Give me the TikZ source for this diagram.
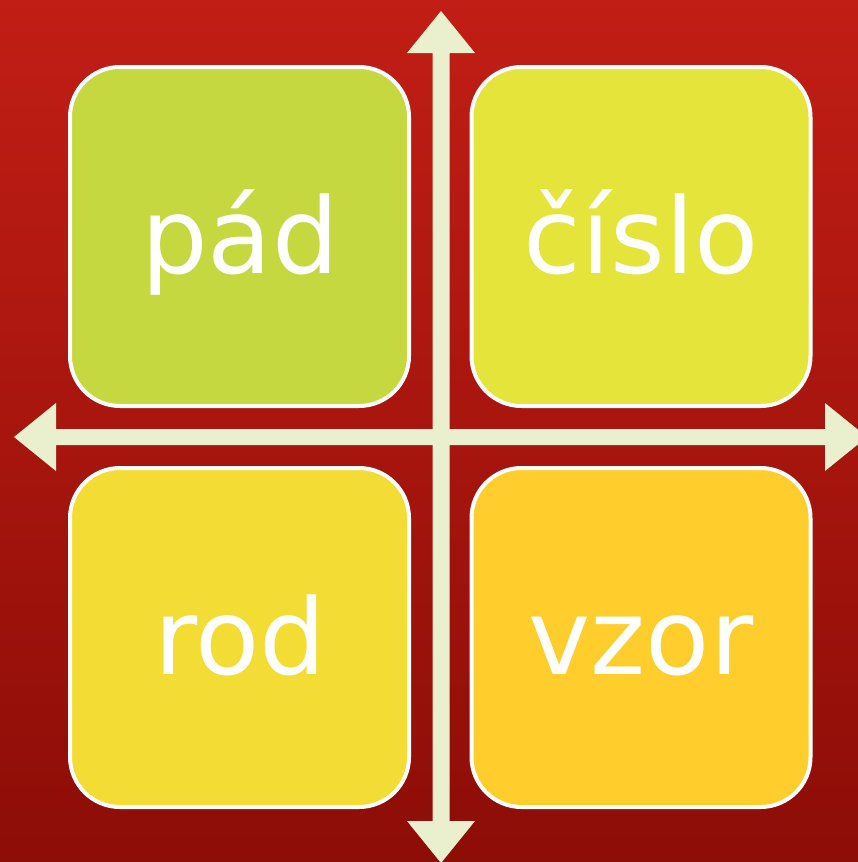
\documentclass[tikz,border=0pt]{standalone}
\usepackage{fontspec}
\usetikzlibrary{calc}
\setmainfont{DejaVu Sans}
\definecolor{bgtop}{RGB}{193,30,21}
\definecolor{bgbot}{RGB}{141,13,7}
\definecolor{arrowc}{RGB}{234,240,206}
\definecolor{cA}{RGB}{198,216,64}
\definecolor{cB}{RGB}{228,228,58}
\definecolor{cC}{RGB}{243,221,52}
\definecolor{cD}{RGB}{255,206,44}
\tikzset{
  quad/.style={draw=white, line width=4pt, rounded corners=50pt, minimum width=339pt, minimum height=339pt, inner sep=0pt, outer sep=0pt},
  word/.style={text=white, anchor=base, inner sep=0pt, font=\fontsize{105}{115}\selectfont},
  axis/.style={fill=arrowc, draw=none}
}
\begin{document}
\begin{tikzpicture}[x=1pt,y=-1pt]
\useasboundingbox (0,0) rectangle (858,862);
\clip (0,0) rectangle (858,862);
\shade[top color=bgtop, bottom color=bgbot] (0,0) rectangle (858,862);
% vertical double arrow
\coordinate (vt) at (441,11);
\coordinate (vb) at (441,863);
\fill[axis] (vt) -- ($(vt)+(34,42)$) -- ($(vt)+(8.5,42)$) -- ($(vb)+(8.5,-42)$) -- ($(vb)+(34,-42)$) -- (vb)
  -- ($(vb)+(-34,-42)$) -- ($(vb)+(-8.5,-42)$) -- ($(vt)+(-8.5,42)$) -- ($(vt)+(-34,42)$) -- cycle;
% horizontal double arrow
\coordinate (hl) at (14,437);
\coordinate (hr) at (867,437);
\fill[axis] (hl) -- ($(hl)+(42,-34)$) -- ($(hl)+(42,-8)$) -- ($(hr)+(-42,-8)$) -- ($(hr)+(-42,-34)$) -- (hr)
  -- ($(hr)+(-42,34)$) -- ($(hr)+(-42,8)$) -- ($(hl)+(42,8)$) -- ($(hl)+(42,34)$) -- cycle;
% boxes
\node[quad, fill=cA] (pad) at (239.5,236.5) {};
\node[quad, fill=cB] (cislo) at (641,236.5) {};
\node[quad, fill=cC] (rod) at (239.5,637.5) {};
\node[quad, fill=cD] (vzor) at (641,637.5) {};
% words
\node[word] (tpad) at (240,273) {pád};
\node[word] (tcislo) at (641,273) {číslo};
\node[word] (trod) at (240,674) {rod};
\node[word] (tvzor) at (641,674) {vzor};
\end{tikzpicture}
\end{document}
